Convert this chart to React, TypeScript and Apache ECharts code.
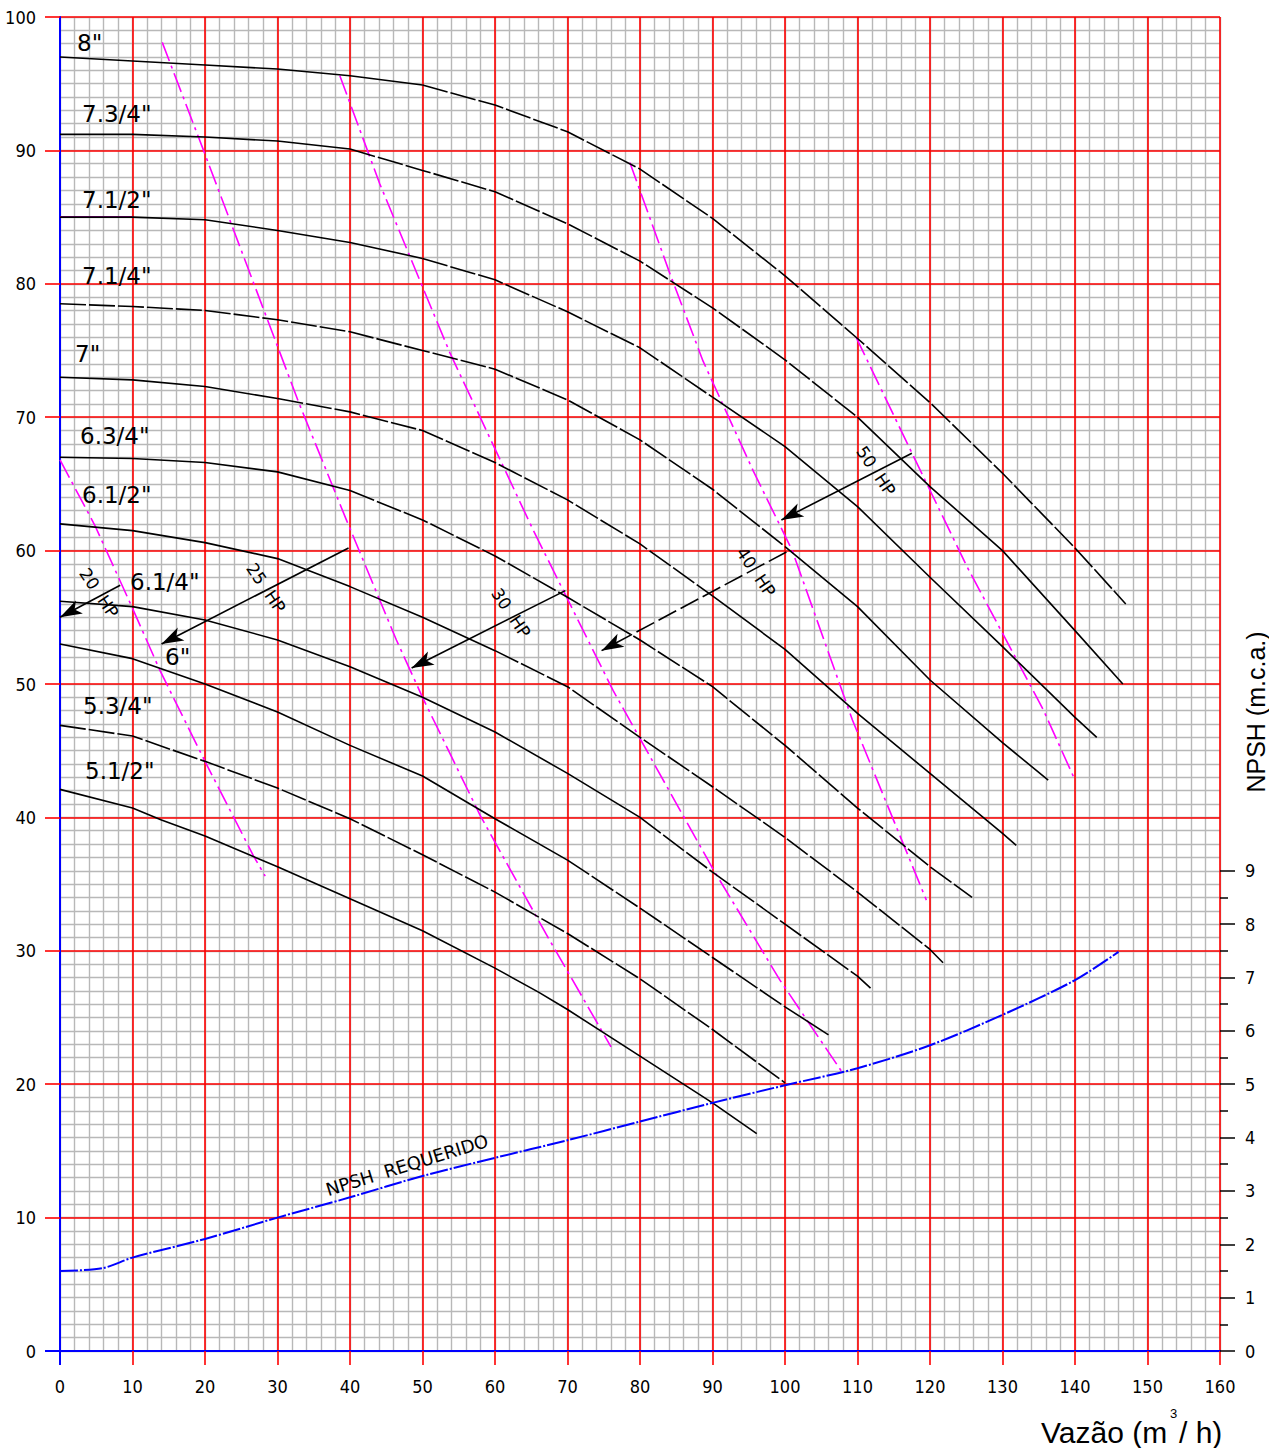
import React, { useEffect, useRef } from "react";
import * as echarts from "echarts";

// ---------- data (flow m3/h, head m) ----------
const C_8 = [[0,97],[10,96.7],[20,96.4],[30,96.1],[40,95.6],[50,94.9],[60,93.4],[70,91.4],[80,88.6],[90,84.9],[100,80.6],[110,75.9],[120,71.1],[130,65.8],[140,60.2],[147,56]];
const C_7_75 = [[0,91.2],[10,91.2],[20,91.0],[30,90.7],[40,90.1],[50,88.5],[60,86.9],[70,84.5],[80,81.7],[90,78.2],[100,74.3],[110,70.0],[120,64.8],[130,60.0],[140,54.0],[146.6,50]];
const C_7_5 = [[0,85],[10,85],[20,84.8],[30,84],[40,83.1],[50,81.9],[60,80.3],[70,77.9],[80,75.2],[90,71.5],[100,67.8],[110,63.3],[120,58],[130,52.8],[140,47.5],[143,46]];
const C_7_25 = [[0,78.5],[10,78.3],[20,78.0],[30,77.3],[40,76.4],[50,75.0],[60,73.6],[70,71.3],[80,68.3],[90,64.6],[100,60.3],[110,55.8],[120,50.3],[130,45.6],[136.3,42.8]];
const C_7 = [[0,73],[10,72.8],[20,72.3],[30,71.4],[40,70.4],[50,69],[60,66.6],[70,63.8],[80,60.5],[90,56.6],[100,52.6],[110,47.8],[120,43.3],[130,38.8],[131.9,37.9]];
const C_6_75 = [[0,67],[10,66.9],[20,66.6],[30,65.9],[40,64.5],[50,62.3],[60,59.6],[70,56.5],[80,53.3],[90,49.8],[100,45.4],[110,40.7],[120,36.3],[125.8,34]];
const C_6_5 = [[0,62],[10,61.5],[20,60.6],[30,59.4],[40,57.3],[50,55.0],[60,52.5],[70,49.8],[80,46.0],[90,42.3],[100,38.5],[110,34.4],[120,30.1],[121.8,29.1]];
const C_6_25 = [[0,56.2],[10,55.8],[20,54.8],[30,53.3],[40,51.3],[50,49.0],[60,46.4],[70,43.3],[80,40.0],[90,35.9],[100,32.0],[110,28.1],[111.8,27.2]];
const C_6 = [[0,53],[10,51.9],[20,50],[30,47.9],[40,45.4],[50,43.1],[60,39.9],[70,36.8],[80,33.2],[90,29.5],[100,25.8],[106,23.7]];
const C_5_75 = [[0,46.9],[10,46.1],[20,44.2],[30,42.2],[40,39.9],[50,37.2],[60,34.4],[70,31.3],[80,27.9],[90,24.1],[100,20.1]];
const C_5_5 = [[0,42.1],[10,40.7],[14,39.8],[20,38.6],[30,36.3],[40,33.9],[50,31.5],[60,28.7],[66,26.9],[70,25.6],[80,22.1],[90,18.6],[96.1,16.3]];

const CURVE_NAMES = ['8"', '7.3/4"', '7.1/2"', '7.1/4"', '7"', '6.3/4"', '6.1/2"', '6.1/4"', '6"', '5.3/4"', '5.1/2"'];
const CURVE_POINTS = [C_8, C_7_75, C_7_5, C_7_25, C_7, C_6_75, C_6_5, C_6_25, C_6, C_5_75, C_5_5];
// flow range drawn dashed on each curve [from, to]
const CURVE_DASHED = [[50,999],[40,110],[50,90],[0,100],[30,90],[40,999],[60,999],[80,999],[70,100],[0,999],[999,999]];

// power limit lines
const HP_20 = [[0,66.8],[4.8,61.9],[9.9,55.8],[13.8,51],[20,44.2],[26.7,37.1],[28.3,35.6]];
const HP_25 = [[14.1,98.1],[19.8,90],[24.8,82.8],[33,71],[39.5,62.3],[46.4,53.3],[50,49],[58,40.1],[67,31.3],[76,22.8]];
const HP_30 = [[38.6,95.6],[44.1,87.5],[53.8,74.8],[65.3,61.5],[76.3,49.5],[90.1,36.1],[99.3,27.8],[108,20.8]];
const HP_40 = [[78.6,89.1],[84.1,80.8],[88.7,74.2],[95.6,66],[101,60],[109.3,47.3],[119.5,33.8]];
const HP_50 = [[109.8,76],[117.7,67.1],[125.1,58.8],[135.6,48.1],[140,42.8]];
const MAGENTA_SEG = [[0,85],[10,85]];

// arrows [tail, head]
const ARROW_20 = [[8.3,57.4],[0,55]];
const ARROW_25 = [[39.8,60.2],[14,53]];
const ARROW_30 = [[69.7,57.0],[48.5,51.2]];
const ARROW_40 = [[100.2,59.9],[74.7,52.5]];
const ARROW_50 = [[117.5,67.3],[99.5,62.3]];

// NPSH required (m.c.a.)
const NPSH_FLOW = [0,5.8,10,20,30,40,50,60,70,80,90,100,110,120,130,140,146];
const NPSH_REQ = [1.5,1.55,1.75,2.1,2.5,2.88,3.28,3.62,3.95,4.3,4.65,4.98,5.3,5.73,6.3,6.95,7.48];

// ---------- style ----------
const RED = "#ff0000";
const BLUE = "#0000ff";
const GRAY = "#b8b8b8";
const MAGENTA = "#ff00ff";
const TICK_FONT = "'Liberation Sans Narrow', 'DejaVu Sans Condensed', 'Liberation Sans', sans-serif";
const LABEL_FONT = "'DejaVu Sans', 'Liberation Sans', sans-serif";
const AXIS_FONT = "'Liberation Sans', sans-serif";
const G_LEFT = 60, G_TOP = 17, G_W = 1160, G_H = 1334;

const CURVE_LABEL_POS = [[77,43],[82,114],[82,200],[82,276],[75,354],[80,436],[82,495],[130,582],[165,657],[83,706],[85,771]];
const HP_LABELS = [["20  HP",99,593],["25  HP",266,588],["30  HP",511,613],["40  HP",756,572],["50  HP",876,471]];

function buildOption() {
  const series: any[] = [];
  const base = { type: "line", xAxisIndex: 1, yAxisIndex: 1, symbol: "none", silent: true, z: 3 };
  CURVE_POINTS.forEach((pts, i) => {
    const [from, to] = CURVE_DASHED[i];
    const p1 = pts.filter((p) => p[0] <= from);
    const pd = pts.filter((p) => p[0] >= from && p[0] <= to);
    const p2 = pts.filter((p) => p[0] >= to);
    const solid = { color: "#000", width: 1.6, type: "solid" };
    const dashed = { color: "#000", width: 1.6, type: [26, 3] };
    if (p1.length > 1) series.push({ ...base, name: CURVE_NAMES[i], data: p1, lineStyle: solid });
    if (pd.length > 1) series.push({ ...base, name: CURVE_NAMES[i] + " d", data: pd, lineStyle: dashed });
    if (p2.length > 1) series.push({ ...base, name: CURVE_NAMES[i] + " b", data: p2, lineStyle: solid });
  });
  [HP_20, HP_25, HP_30, HP_40, HP_50].forEach((pts, i) => {
    series.push({ ...base, name: "hp" + i, data: pts, z: 2, lineStyle: { color: MAGENTA, width: 1.6, type: [20, 5, 3, 5] } });
  });
  series.push({ ...base, name: "mag", data: MAGENTA_SEG, z: 2, lineStyle: { color: MAGENTA, width: 2, type: "solid" } });
  series.push({
    ...base, name: "npsh", yAxisIndex: 2, smooth: 0.3,
    data: NPSH_FLOW.map((x, i) => [x, NPSH_REQ[i]]),
    lineStyle: { color: BLUE, width: 2, type: [18, 2, 2, 2] },
  });
  const arrowBase = {
    type: "lines", coordinateSystem: "cartesian2d", xAxisIndex: 1, yAxisIndex: 1,
    symbol: ["none", "arrow"], symbolSize: [1, [11, 22]], silent: true, z: 4,
  };
  series.push({
    ...arrowBase,
    data: [ARROW_20, ARROW_25, ARROW_30, ARROW_50].map((c) => ({ coords: c })),
    lineStyle: { color: "#000", width: 1.6, opacity: 1, curveness: 0 },
  });
  series.push({
    ...arrowBase,
    data: [ARROW_40].map((c) => ({ coords: c })),
    lineStyle: { color: "#000", width: 1.6, opacity: 1, curveness: 0, type: [20, 5] },
  });

  const graphic: any[] = [];
  CURVE_NAMES.forEach((n, i) => {
    graphic.push({
      type: "text", x: CURVE_LABEL_POS[i][0], y: CURVE_LABEL_POS[i][1], z: 100,
      style: { text: n, fill: "#000", font: `23px ${LABEL_FONT}`, textAlign: "left", textVerticalAlign: "middle" },
    });
  });
  HP_LABELS.forEach((h) => {
    graphic.push({
      type: "text", x: h[1], y: h[2], rotation: (-56 * Math.PI) / 180, z: 100,
      style: { text: h[0], fill: "#000", font: `17px ${LABEL_FONT}`, textAlign: "center", textVerticalAlign: "middle" },
    });
  });
  graphic.push({
    type: "text", x: 407, y: 1165, rotation: 0.3, z: 100,
    style: { text: "NPSH  REQUERIDO", fill: "#000", font: `18px ${LABEL_FONT}`, textAlign: "center", textVerticalAlign: "middle" },
  });
  graphic.push({
    type: "text", x: 1256, y: 712, rotation: Math.PI / 2, z: 100,
    style: { text: "NPSH (m.c.a.)", fill: "#000", font: `25px ${AXIS_FONT}`, textAlign: "center", textVerticalAlign: "middle" },
  });
  graphic.push({
    type: "text", x: 1041, y: 1432, z: 100,
    style: { text: "Vazão (m", fill: "#000", font: `30px ${AXIS_FONT}`, textAlign: "left", textVerticalAlign: "middle" },
  });
  graphic.push({
    type: "text", x: 1170, y: 1413, z: 100,
    style: { text: "3", fill: "#000", font: `13px ${AXIS_FONT}`, textAlign: "left", textVerticalAlign: "middle" },
  });
  graphic.push({
    type: "text", x: 1179, y: 1432, z: 100,
    style: { text: "/ h)", fill: "#000", font: `30px ${AXIS_FONT}`, textAlign: "left", textVerticalAlign: "middle" },
  });
  graphic.push({ type: "line", z: 100, shape: { x1: G_LEFT, y1: G_TOP + G_H, x2: G_LEFT, y2: G_TOP + G_H + 14 }, style: { stroke: BLUE, lineWidth: 2 } });
  graphic.push({ type: "line", z: 100, shape: { x1: G_LEFT - 15, y1: G_TOP + G_H, x2: G_LEFT, y2: G_TOP + G_H }, style: { stroke: BLUE, lineWidth: 2 } });

  const tickLabel = { color: "#000", fontSize: 18, fontFamily: TICK_FONT };
  const npshH = (G_H * 9) / 25;

  return {
    animation: false,
    backgroundColor: "#ffffff",
    grid: [
      { left: G_LEFT, top: G_TOP, width: G_W, height: G_H },
      { left: G_LEFT, top: G_TOP + G_H - npshH, width: G_W, height: npshH },
    ],
    xAxis: [
      { gridIndex: 0, type: "value", min: 0, max: 160, interval: 2, position: "bottom", z: 0,
        axisLine: { show: false }, axisTick: { show: false }, axisLabel: { show: false },
        splitLine: { show: true, lineStyle: { color: GRAY, width: 1.4 } } },
      { gridIndex: 0, type: "value", min: 0, max: 160, interval: 10, position: "bottom", z: 1,
        axisLine: { show: true, onZero: false, lineStyle: { color: BLUE, width: 2 } },
        axisTick: { show: true, length: 14, lineStyle: { color: RED, width: 1.6 } },
        axisLabel: { ...tickLabel, margin: 26 },
        splitLine: { show: true, showMinLine: false, lineStyle: { color: RED, width: 1.6 } } },
      { gridIndex: 1, type: "value", min: 0, max: 160, show: false },
    ],
    yAxis: [
      { gridIndex: 0, type: "value", min: 0, max: 100, interval: 1, position: "left", z: 0,
        axisLine: { show: false }, axisTick: { show: false }, axisLabel: { show: false },
        splitLine: { show: true, lineStyle: { color: GRAY, width: 1.4 } } },
      { gridIndex: 0, type: "value", min: 0, max: 100, interval: 10, position: "left", z: 1,
        axisLine: { show: true, onZero: false, lineStyle: { color: BLUE, width: 2 } },
        axisTick: { show: true, length: 15, lineStyle: { color: RED, width: 1.6 } },
        axisLabel: { ...tickLabel, margin: 24 },
        splitLine: { show: true, showMinLine: false, lineStyle: { color: RED, width: 1.6 } } },
      { gridIndex: 0, type: "value", min: 0, max: 25, position: "right", show: false },
      { gridIndex: 1, type: "value", min: 0, max: 9, interval: 1, position: "right", z: 2,
        axisLine: { show: false, onZero: false },
        axisTick: { show: true, length: 15, lineStyle: { color: "#000", width: 1.5 } },
        minorTick: { show: true, splitNumber: 2, length: 8, lineStyle: { color: "#000", width: 1.5 } },
        axisLabel: { ...tickLabel, margin: 25 },
        splitLine: { show: false } },
    ],
    series,
    graphic,
  };
}

export default function App() {
  const ref = useRef<HTMLDivElement>(null);
  useEffect(() => {
    if (!ref.current) return;
    const chart = echarts.init(ref.current, null, { renderer: "svg" });
    chart.setOption(buildOption() as any);
    return () => chart.dispose();
  }, []);
  return (
    <div
      ref={ref}
      style={{ position: "absolute", left: 0, top: 0, width: 1269, height: 1448, background: "#fff" }}
    />
  );
}
